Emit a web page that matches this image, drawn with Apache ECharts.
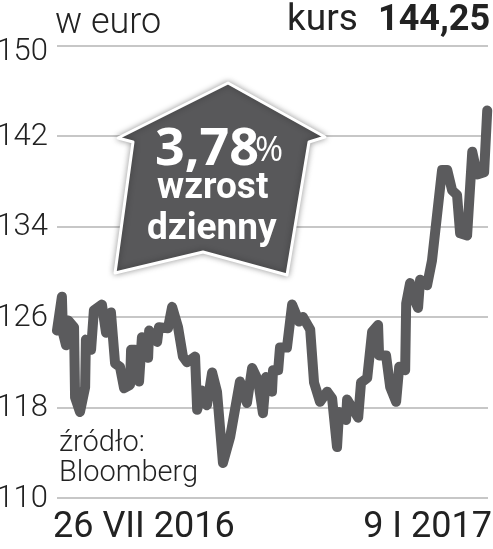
<!DOCTYPE html>
<html>
<head>
<meta charset="utf-8">
<title>kurs</title>
<style>
html,body{margin:0;padding:0;background:#fff;}
#main{width:493px;height:549px;}
</style>
<script src="https://cdn.jsdelivr.net/npm/echarts@6/dist/echarts.min.js"></script>
</head>
<body>
<div id="main"></div>
<script>
//dni od 26 VII 2016
var days = [0,1.9,2.3,3.5,4.3,6.6,7,8.9,10.9,11.2,13.2,14.3,17.4,19,20.9,22.5,24.4,26,28.3,28.7,30.2,31.8,32.9,35.3,35.7,38.8,39.5,43,44.6,46.9,48.8,50.4,53.5,54.3,56.2,58.1,60.1,62,64.3,67.1,70.9,73.6,75.6,77.9,79.8,81,83.3,83.7,85.7,86.4,89.1,91.1,93.8,95.3,98.1,99.6,101.9,104.7,106.6,108.5,109.3,112,112.4,116.7,117.8,120.2,122.1,124.4,124.8,127.5,129.1,131.4,132.6,134.9,135.3,136.8,138,139.9,140.7,143.4,145.3,149.2,151.2,153.1,155,156.2,158.9,160.9,162.8,165.5,166.7];
//kurs w euro
var prices = [124.8,127.8,124.6,123.5,125.7,125.1,118.9,117.6,119.8,124,123.1,126.6,127.1,124.6,126.4,121.9,121.6,119.7,120,123.1,123.1,120.3,124.2,122.4,124.8,123.8,125.1,125,126.9,125.1,122.5,122,122.5,117.8,119.5,118.2,121.1,119.4,113.1,115.4,120.3,118.4,121.5,120.4,117.5,120.7,119.4,121.3,121.3,123.3,123.3,127.1,125.6,126,124.9,120.2,118.5,119.4,118.8,114.5,117.6,116.9,118.7,117.1,120.2,120.6,124.7,125.3,122.6,122.6,119.8,118.5,121.6,121.3,127.2,129,127.8,126.8,129.3,128.8,131,139,139,137.2,136.8,133.4,133.2,140.6,138.6,138.8,144.25];
var xTicks = [0,167];
var xTickLabels = ['26 VII 2016','9 I 2017'];

var lineColor = '#5b5b5d';
var textColor = '#222222';

var myChart = echarts.init(document.getElementById('main'));
var option = {
    animation:false,
    backgroundColor:'#fff',
    grid:{left:57,right:5,top:45.5,bottom:51,outerBoundsMode:'none'},
    xAxis:{
        type:'value',
        min:0,
        max:167,
        splitLine:{show:false},
        axisLine:{show:false},
        axisTick:{show:false},
        axisLabel:{
            customValues:xTicks,
            alignMinLabel:'left',
            alignMaxLabel:'right',
            margin:12,
            padding:[0,-4,0,-4],
            fontFamily:'Roboto',
            fontSize:36,
            color:textColor,
            formatter:function (value) {
                return xTickLabels[xTicks.indexOf(value)];
            }
        }
    },
    yAxis:{
        type:'value',
        min:110,
        max:150,
        interval:8,
        axisLine:{show:false},
        axisTick:{show:false},
        splitLine:{lineStyle:{color:'#b5b5b5',width:1.5}},
        axisLabel:{
            margin:9,
            padding:[2,0,0,0],
            verticalAlignMinLabel:'middle',
            verticalAlignMaxLabel:'middle',
            fontFamily:'Roboto',
            fontWeight:300,
            fontSize:31,
            color:textColor,
            //najwyzsza etykieta lekko nizej, jak w oryginale
            formatter:function (value) {
                return value === 150 ? '{top|150}' : String(value);
            },
            rich:{
                top:{padding:[12,0,0,0],fontFamily:'Roboto',fontWeight:300,fontSize:31,color:textColor}
            }
        }
    },
    series:[{
        type:'line',
        data:days.map(function (d,i) {return [d,prices[i]];}),
        showSymbol:false,
        clip:false,
        z:3,
        lineStyle:{color:lineColor,width:10,cap:'round',join:'round'}
    }],
    graphic:[
        {type:'text',z:10,left:55,top:6,style:{text:'w euro',font:'300 36px Roboto',fill:textColor}},
        {type:'text',z:10,left:287,top:2,style:{text:'kurs',font:'400 37px Roboto',fill:textColor}},
        {type:'text',z:10,left:378,top:3,style:{text:'144,25',font:'bold 36px Roboto',fill:textColor}},
        {type:'text',z:10,left:59,top:429,style:{text:'źródło:\nBloomberg',font:'300 29px Roboto',lineHeight:30,fill:textColor}},
        //strzalka
        {
            type:'polygon',
            z:8,
            shape:{points:[[228,83],[325,137],[309,142],[287,275],[203,252],[115,273],[133,142],[118,138]]},
            style:{fill:'#58585a',stroke:'#fff',lineWidth:3,lineJoin:'round',shadowBlur:6,shadowColor:'rgba(0,0,0,0.35)'}
        },
        {type:'text',z:10,left:155,top:124,style:{text:'3,78',font:'bold 52px "Open Sans"',fill:'#fff'}},
        {type:'text',z:10,left:255,top:134,style:{text:'%',font:'400 34px "Open Sans"',fill:'#fff'}},
        {type:'text',z:10,left:157,top:170,style:{text:'wzrost',font:'bold 37px Roboto',fill:'#fff'}},
        {type:'text',z:10,left:147,top:211,style:{text:'dzienny',font:'bold 37px Roboto',fill:'#fff'}}
    ]
};
myChart.setOption(option);
</script>
</body>
</html>
